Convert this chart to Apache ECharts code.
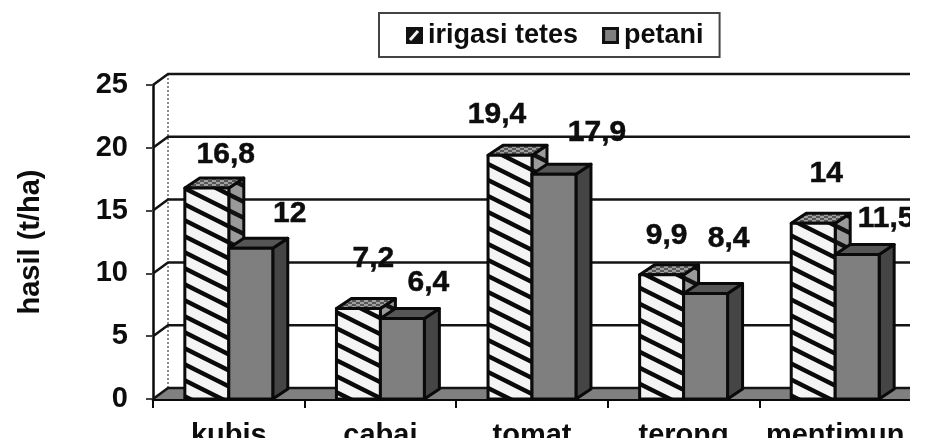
<!DOCTYPE html>
<html>
<head>
<meta charset="utf-8">
<style>
  html, body { margin: 0; background: #fff; }
  #chart { width: 925px; height: 442px; }
</style>
<script src="https://cdn.jsdelivr.net/npm/echarts@6/dist/echarts.min.js"></script>
</head>
<body>
<div id="chart"></div>
<script>
const categories = ['kubis', 'cabai', 'tomat', 'terong', 'mentimun']
const irigasiTetes = [16.8, 7.2, 19.4, 9.9, 14]
const petani = [12, 6.4, 17.9, 8.4, 11.5]
const yTicks = [0, 5, 10, 15, 20, 25]

// hand placed label nudges from the bar's top centre, the source chart has them scattered
const irigasiNudge = [[19, -33], [15, -50], [-13, -41], [5, -39], [13, -49]]
const petaniNudge = [[39, -35], [26, -36], [43, -41], [23, -55], [29, -36]]

const FONT = '"Liberation Sans", Arial, sans-serif'
const INK = '#0d0d0d'
const WALL_DX = 15
const WALL_DY = -11
const BAR_DX = 15
const BAR_DY = -10
const BAR_RATIO = 0.29

function stripes(bg, line) {
  const size = 32
  const tile = document.createElement('canvas')
  tile.width = size
  tile.height = size / 2
  const ctx = tile.getContext('2d')
  ctx.fillStyle = bg
  ctx.fillRect(0, 0, size, size / 2)
  ctx.strokeStyle = line
  ctx.lineWidth = 4.4
  for (const off of [-16, 0, 16]) {
    ctx.beginPath()
    ctx.moveTo(-32, off - 16)
    ctx.lineTo(64, off + 32)
    ctx.stroke()
  }
  return tile
}

function speckle() {
  const tile = document.createElement('canvas')
  tile.width = 8
  tile.height = 4
  const ctx = tile.getContext('2d')
  ctx.fillStyle = '#a0a0a0'
  ctx.fillRect(0, 0, 8, 4)
  ctx.fillStyle = '#555'
  ctx.fillRect(0, 0, 4, 2)
  ctx.fillRect(4, 2, 4, 2)
  return tile
}

function legendIcon(draw) {
  const c = document.createElement('canvas')
  c.width = 17
  c.height = 17
  draw(c.getContext('2d'))
  return 'image://' + c.toDataURL()
}

const hatchFront = { image: stripes('#f4f4f4', '#0a0a0a'), repeat: 'repeat' }
const hatchSide = { image: stripes('#9a9a9a', '#111'), repeat: 'repeat' }
const hatchTop = { image: speckle(), repeat: 'repeat' }

const faces = {
  irigasi: { front: hatchFront, side: hatchSide, top: hatchTop },
  petani: { front: '#7f7f7f', side: '#454545', top: '#565656' },
}

function quad(points, fill) {
  return {
    type: 'polygon',
    shape: { points },
    style: { fill, stroke: '#0a0a0a', lineWidth: 3, lineJoin: 'round' },
  }
}

function barSeries(name, values, look, slot, nudges) {
  return {
    name,
    type: 'custom',
    z: slot + 3,
    clip: false,
    data: values.map((v, i) => [i, v]),
    encode: { x: 0, y: 1 },
    renderItem(params, api) {
      const i = api.value(0)
      const value = api.value(1)
      const band = api.size([1, 0])[0]
      const w = band * BAR_RATIO
      const top = api.coord([i, value])
      const base = api.coord([i, 0])
      const x0 = top[0] + (slot - 1) * w
      const x1 = x0 + w
      const y0 = top[1]
      const y1 = base[1]
      const nudge = nudges[i]
      return {
        type: 'group',
        children: [
          quad([[x1, y0], [x1 + BAR_DX, y0 + BAR_DY], [x1 + BAR_DX, y1 + BAR_DY], [x1, y1]], look.side),
          quad([[x0, y0], [x0 + BAR_DX, y0 + BAR_DY], [x1 + BAR_DX, y0 + BAR_DY], [x1, y0]], look.top),
          quad([[x0, y0], [x1, y0], [x1, y1], [x0, y1]], look.front),
          {
            type: 'text',
            z2: 10,
            style: {
              text: String(value).replace('.', ','),
              x: (x0 + x1) / 2 + nudge[0],
              y: y0 + nudge[1],
              align: 'center',
              verticalAlign: 'middle',
              fill: INK,
              stroke: INK,
              lineWidth: 0.5,
              font: 'bold 30px ' + FONT,
            },
          },
        ],
      }
    },
  }
}

const wallSeries = {
  type: 'custom',
  silent: true,
  z: 1,
  clip: false,
  data: yTicks.map((t) => [0, t]),
  encode: { x: 0, y: 1 },
  renderItem(params, api) {
    const box = params.coordSys
    const y = api.coord([0, api.value(1)])[1]
    const left = box.x
    const right = box.x + box.width
    const backX = left + WALL_DX
    const backY = y + WALL_DY
    const children = [
      {
        type: 'polyline',
        shape: { points: [[left, y], [backX, backY], [right, backY]] },
        style: { fill: 'none', stroke: '#141414', lineWidth: 2.5 },
      },
    ]
    if (api.value(1) === 0) {
      children.unshift(
        {
          type: 'polygon',
          shape: { points: [[left, y], [backX, backY], [right, backY], [right, y]] },
          style: { fill: '#808080' },
        },
        {
          type: 'line',
          shape: { x1: backX, y1: backY, x2: backX, y2: box.y + WALL_DY },
          style: { stroke: '#8a8a8a', lineWidth: 2, lineDash: [2, 2] },
        },
      )
    }
    return { type: 'group', children }
  },
}

const chart = echarts.init(document.getElementById('chart'))
chart.setOption({
  animation: false,
  textStyle: { fontFamily: FONT },
  legend: {
    left: 379,
    top: 13,
    padding: [9, 16, 8, 27],
    backgroundColor: '#fff',
    borderColor: '#444',
    borderWidth: 2,
    borderRadius: 0,
    itemWidth: 17,
    itemHeight: 17,
    itemGap: 24,
    textStyle: { color: INK, fontSize: 27, fontWeight: 'bold', fontFamily: FONT },
    data: [
      {
        name: 'irigasi tetes',
        icon: legendIcon((ctx) => {
          ctx.fillStyle = '#111'
          ctx.fillRect(0, 0, 17, 17)
          ctx.strokeStyle = '#f4f4f4'
          ctx.lineWidth = 3
          ctx.beginPath()
          ctx.moveTo(4, 13)
          ctx.lineTo(12, 4)
          ctx.stroke()
        }),
      },
      {
        name: 'petani',
        icon: legendIcon((ctx) => {
          ctx.fillStyle = '#111'
          ctx.fillRect(0, 0, 17, 17)
          ctx.fillStyle = '#7f7f7f'
          ctx.fillRect(3, 3, 11, 11)
        }),
      },
    ],
  },
  grid: { left: 153, right: 14, top: 85, bottom: 43, outerBoundsMode: 'none' },
  xAxis: {
    type: 'category',
    data: categories,
    axisLine: { lineStyle: { color: '#0a0a0a', width: 3 } },
    axisTick: { show: true, alignWithLabel: false, length: 9, lineStyle: { color: '#0a0a0a', width: 2 } },
    axisLabel: { color: INK, fontSize: 29, fontWeight: 'bold', margin: 22, interval: 0, hideOverlap: false },
  },
  yAxis: {
    type: 'value',
    min: 0,
    max: 25,
    interval: 5,
    name: 'hasil (t/ha)',
    nameLocation: 'middle',
    nameGap: 108,
    nameTextStyle: { color: INK, fontSize: 29, fontWeight: 'bold' },
    axisLine: { show: true, lineStyle: { color: '#0a0a0a', width: 2.5 } },
    axisTick: { show: true, length: 7, lineStyle: { color: '#444', width: 2 } },
    axisLabel: { color: INK, fontSize: 29, fontWeight: 'bold', margin: 25 },
    splitLine: { show: false },
  },
  series: [
    wallSeries,
    barSeries('irigasi tetes', irigasiTetes, faces.irigasi, 0, irigasiNudge),
    barSeries('petani', petani, faces.petani, 1, petaniNudge),
  ],
  // the source picture is cropped on the right and at the bottom
  graphic: {
    elements: [
      { type: 'rect', z: 100, shape: { x: 910, y: 0, width: 15, height: 442 }, style: { fill: '#fff' } },
      { type: 'rect', z: 100, shape: { x: 0, y: 438, width: 925, height: 4 }, style: { fill: '#fff' } },
    ],
  },
})
</script>
</body>
</html>
